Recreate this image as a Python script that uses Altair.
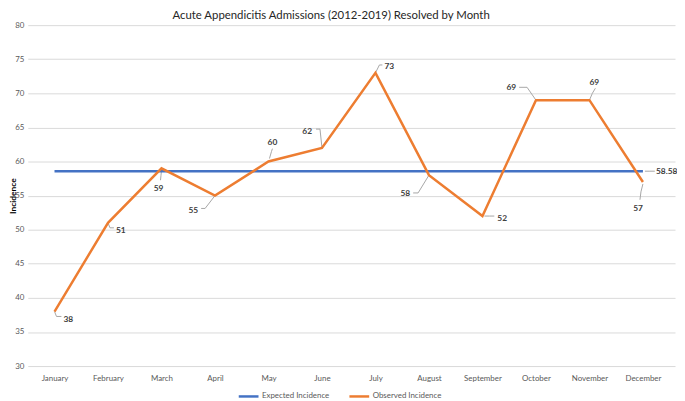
import altair as alt
import pandas as pd

# ---------------- data ----------------
months = ["January", "February", "March", "April", "May", "June", "July",
          "August", "September", "October", "November", "December"]
observed = [38, 51, 59, 55, 60, 62, 73, 58, 52, 69, 69, 57]
expected = [58.58] * 12
series_names = ["Expected Incidence", "Observed Incidence"]
y_ticks = [30, 35, 40, 45, 50, 55, 60, 65, 70, 75, 80]
title_text = "Acute Appendicitis Admissions (2012-2019) Resolved by Month"
y_title = "Incidence"

# ---------------- style (label placement in pixels) ----------------
W, H = 655, 345
X_DOMAIN = [-0.5, 11.6]
Y_DOMAIN = [30, 80]
KX = W / (X_DOMAIN[1] - X_DOMAIN[0])
KY = H / (Y_DOMAIN[1] - Y_DOMAIN[0])

obs_label_dx = [14, 13, -3, -22, 4, -15, 14, -24, 20, -25, 5, -5]
obs_label_dy = [8, 7, 20, 15, -20, -17, -7, 18, 2, -13, -18, 26]
obs_lead_start = [(0, 0), (0, 0), (0, 2), (0, 0), (1, -3), (0, 0), (0, 0), (0, 0),
                  (2, 0), (0, 0), (0, 0), (0, 2)]
obs_lead_elbow = [(2, 5), (2, 5), (-0.5, 7), (-10, 13), (3, -10), (-2, -19), (4, -8),
                  (-11, 18), (7, 0), (-9, -13), (3, -7), (-2, 10)]
obs_lead_end = [(7, 5), (6, 5), (-1, 12), (-14, 13), (4, -13), (-6, -19), (7, -8),
                (-16, 18), (12, 0), (-17, -13), (6, -12), (-3, 18)]
exp_label = (24, 0)
exp_lead = [(2, 0), (7, 0), (12, 0)]

BLUE = "#4472C4"
ORANGE = "#ED7D31"
FONT = "Lato"

# ---------------- tables ----------------
rows = []
for i, m in enumerate(months):
    rows.append({"idx": i, "series": series_names[0], "value": expected[i]})
    rows.append({"idx": i, "series": series_names[1], "value": observed[i]})
lines_df = pd.DataFrame(rows)


def px(i, v, dx, dy):
    return i + dx / KX, v - dy / KY


lead_rows, label_rows = [], []
for i, v in enumerate(observed):
    for k, (dx, dy) in enumerate([obs_lead_start[i], obs_lead_elbow[i], obs_lead_end[i]]):
        x, y = px(i, v, dx, dy)
        lead_rows.append({"g": f"o{i}", "k": k, "x": x, "y": y})
    x, y = px(i, v, obs_label_dx[i], obs_label_dy[i])
    label_rows.append({"x": x, "y": y, "t": f"{v}"})
last = len(months) - 1
for k, (dx, dy) in enumerate(exp_lead):
    x, y = px(last, expected[last], dx, dy)
    lead_rows.append({"g": "e", "k": k, "x": x, "y": y})
x, y = px(last, expected[last], *exp_label)
label_rows.append({"x": x, "y": y, "t": f"{expected[last]:.2f}"})
lead_df = pd.DataFrame(lead_rows)
label_df = pd.DataFrame(label_rows)
title_df = pd.DataFrame({"t": [title_text]})

# ---------------- scales ----------------
month_expr = "[" + ",".join(f"'{m}'" for m in months) + "][datum.value]"
xs = alt.Scale(domain=X_DOMAIN, nice=False, zero=False)
ys = alt.Scale(domain=Y_DOMAIN, nice=False, zero=False)

x_axis = alt.Axis(values=list(range(12)), tickCount=30, labelExpr=month_expr,
                  grid=False, domain=False, ticks=False, title=None, labelFont=FONT,
                  labelFontSize=8, labelColor="#595959", labelPadding=9,
                  labelOverlap=False)
y_axis = alt.Axis(values=y_ticks, tickCount=30, grid=True, gridColor="#d9d9d9",
                  gridWidth=1, domain=False, ticks=False, title=y_title, titleFont=FONT,
                  titleFontSize=8.5, titleFontWeight="bold", titleColor="#000000",
                  titleX=-12.5, titleY=H / 2, titleAngle=-90, titleAlign="center",
                  titleBaseline="alphabetic", labelOverlap=False,
                  labelFont=FONT, labelFontSize=8, labelColor="#595959",
                  labelPadding=4)

leaders = alt.Chart(lead_df).mark_line(color="#a6a6a6", strokeWidth=1).encode(
    x=alt.X("x:Q", scale=xs, axis=x_axis),
    y=alt.Y("y:Q", scale=ys, axis=y_axis),
    detail="g:N",
    order="k:Q",
)

lines = alt.Chart(lines_df).mark_line(strokeWidth=2.5).encode(
    x=alt.X("idx:Q", scale=xs, axis=x_axis),
    y=alt.Y("value:Q", scale=ys, axis=y_axis),
    color=alt.Color("series:N",
                    scale=alt.Scale(domain=series_names, range=[BLUE, ORANGE]),
                    legend=alt.Legend(title=None, orient="none", direction="horizontal",
                                      legendX=212, legendY=364, symbolType="stroke",
                                      symbolSize=400, symbolStrokeWidth=2.5,
                                      labelFont=FONT, labelFontSize=8,
                                      labelColor="#595959", labelOffset=2,
                                      columnPadding=14, padding=0)),
)

labels = alt.Chart(label_df).mark_text(font=FONT, fontSize=8.5, color="#404040",
                                       fontWeight="bold").encode(
    x=alt.X("x:Q", scale=xs, axis=x_axis),
    y=alt.Y("y:Q", scale=ys, axis=y_axis),
    text="t:N",
)

title = alt.Chart(title_df).mark_text(font=FONT, fontSize=11.5, color="#262626",
                                      align="center", baseline="top").encode(
    x=alt.value(307),
    y=alt.value(-15),
    text="t:N",
)

chart = alt.layer(leaders, lines, labels, title).properties(
    width=W, height=H,
    autosize=alt.AutoSizeParams(type="none"),
    padding={"left": 20, "top": 15, "right": 2, "bottom": 33},
).configure_view(stroke=None)

chart.save("out.html", embed_options={"renderer": "svg", "actions": False})
